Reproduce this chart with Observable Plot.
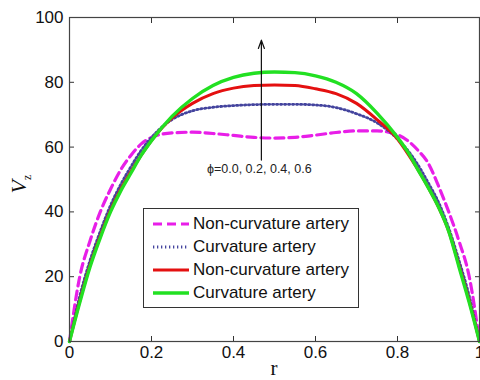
<!DOCTYPE html>
<html>
<head>
<meta charset="utf-8">
<script src="https://cdn.jsdelivr.net/npm/d3@7"></script>
<script src="https://cdn.jsdelivr.net/npm/@observablehq/plot@0.6"></script>
<style>
  body { margin: 0; background: #fff; }
  #wrap { position: relative; width: 480px; height: 380px; overflow: hidden; }
  #legend { position: absolute; left: 143px; top: 208px; width: 214px; height: 98px;
    border: 1px solid #333; background: #fff; font-family: "Liberation Sans", Arial, sans-serif;
    font-size: 17px; color: #111; }
  .row { position: absolute; left: 0; height: 23px; display: flex; align-items: center; }
  .row svg { margin-left: 9px; margin-right: 4px; }
</style>
</head>
<body>
<div id="wrap"></div>
<script>
// ---- data ----
const r = [0,0.025,0.05,0.075,0.1,0.125,0.15,0.175,0.2,0.25,0.3,0.35,0.4,0.45,0.5,0.55,0.6,0.65,0.7,0.75,0.8,0.825,0.85,0.875,0.9,0.925,0.95,0.975,1];
const nonCurvA = [0,20,31,40,47,53,57.5,61,63,64.4,64.6,64.2,63.6,63,62.8,63,63.7,64.5,65,65,63.8,62,59,55,48,40,31,20,0];
const curvA    = [0,14,25,34,42,48.5,54,59,63,68.5,71.2,72.3,72.8,73.1,73.2,73.2,73,72.2,70.3,67.5,62.5,59,54.5,49,43,35,25,14,0];
const nonCurvB = [0,12.5,23.5,32.5,40.5,47,52.5,57.5,62,69,73.5,76.5,78.2,79,79.2,79,78,76.5,73.5,68.5,62.5,58,53,47.5,41.5,34,23.5,12.5,0];
const curvB    = [0,12,23,32,40,46.5,52,57.5,62,69.5,75,79,81.5,82.8,83.2,83,82,80,76.5,70.5,63,58.5,53,47.5,41.5,34,23,12,0];

const seriesNames = ["Non-curvature artery","Curvature artery","Non-curvature artery","Curvature artery"];
const seriesValues = [nonCurvA, curvA, nonCurvB, curvB];
const xTicks = [0, 0.2, 0.4, 0.6, 0.8, 1];
const xTickLabels = ["0","0.2","0.4","0.6","0.8","1"];
const yTicks = [0, 20, 40, 60, 80, 100];
const yTickLabels = ["0","20","40","60","80","100"];
const arrowX = [0.468];
const arrowY1 = [56];
const arrowY2 = [93];
const annotationText = ["\u03d5=0.0, 0.2, 0.4, 0.6"];
const annotationY = [53.2];

// ---- styles ----
const styles = [
  {stroke: "#e81ee8", strokeWidth: 3.2, strokeDasharray: "9,5"},
  {stroke: "#44449e", strokeWidth: 2.8, strokeDasharray: "1.3,2.7"},
  {stroke: "#e41010", strokeWidth: 3},
  {stroke: "#22e022", strokeWidth: 3.4}
];

const font = '"Liberation Sans", Arial, sans-serif';
const lineMarks = seriesValues.map((vals, i) =>
  Plot.line(r.map((x, j) => ({x, y: vals[j]})), {x: "x", y: "y", curve: "monotone-x", ...styles[i]})
);

const plot = Plot.plot({
  width: 480, height: 380,
  marginLeft: 69, marginRight: 1, marginTop: 17, marginBottom: 39,
  x: {domain: [0, 1]},
  y: {domain: [0, 100]},
  style: {fontFamily: font, fontSize: "17px", color: "#111", background: "#fff"},
  marks: [
    ...lineMarks,
    Plot.axisX(xTicks, {anchor: "bottom", tickSize: -5, tickFormat: () => "", label: null, stroke: "#333"}),
    Plot.axisX(xTicks, {anchor: "top", tickSize: -5, tickFormat: () => "", label: null, stroke: "#333"}),
    Plot.axisY(yTicks, {anchor: "left", tickSize: -5, tickFormat: () => "", label: null, stroke: "#333"}),
    Plot.axisY(yTicks, {anchor: "right", tickSize: -5, tickFormat: () => "", label: null, stroke: "#333"}),
    Plot.axisX(xTicks, {anchor: "bottom", tickSize: 0, tickPadding: 4, tickFormat: (d, i) => xTickLabels[i], label: null, fontSize: 17}),
    Plot.axisY(yTicks, {anchor: "left", tickSize: 0, tickPadding: 6, tickFormat: (d, i) => yTickLabels[i], label: null, fontSize: 17}),
    Plot.frame({stroke: "#444", strokeWidth: 1.2}),
    Plot.arrow(arrowX.map((x, i) => ({x, y1: arrowY1[i], y2: arrowY2[i]})),
      {x1: "x", x2: "x", y1: "y1", y2: "y2", stroke: "#111", strokeWidth: 1.2, headLength: 11, headAngle: 40}),
    Plot.text(annotationText.map((t, i) => ({t, x: arrowX[i] - 0.005, y: annotationY[i]})),
      {x: "x", y: "y", text: "t", fontSize: 12.5, fill: "#222", fontFamily: font})
  ]
});

// axis titles
const svg = d3.select(plot);
svg.append("text")
  .attr("x", 274).attr("y", 375)
  .attr("text-anchor", "middle")
  .attr("font-family", '"Liberation Serif", "Times New Roman", serif')
  .attr("font-size", 21).attr("fill", "#111")
  .text("r");
const yl = svg.append("text")
  .attr("transform", "translate(26,184) rotate(-90)")
  .attr("text-anchor", "middle")
  .attr("font-family", '"Liberation Serif", "Times New Roman", serif')
  .attr("font-size", 22).attr("fill", "#111");
yl.append("tspan").attr("font-style", "italic").text("V");
yl.append("tspan").attr("font-size", 12).attr("dy", 5).text("z");

const wrap = document.getElementById("wrap");
wrap.appendChild(plot);

// legend
const legend = document.createElement("div");
legend.id = "legend";
seriesNames.forEach((name, i) => {
  const row = document.createElement("div");
  row.className = "row";
  row.style.top = (3 + i * 23.3) + "px";
  const s = styles[i];
  row.innerHTML = `<svg width="36" height="10"><line x1="0" x2="36" y1="5" y2="5" stroke="${s.stroke}" stroke-width="${s.strokeWidth}" ${s.strokeDasharray ? `stroke-dasharray="${s.strokeDasharray}"` : ""}/></svg><span>${name}</span>`;
  legend.appendChild(row);
});
wrap.appendChild(legend);
</script>
</body>
</html>
